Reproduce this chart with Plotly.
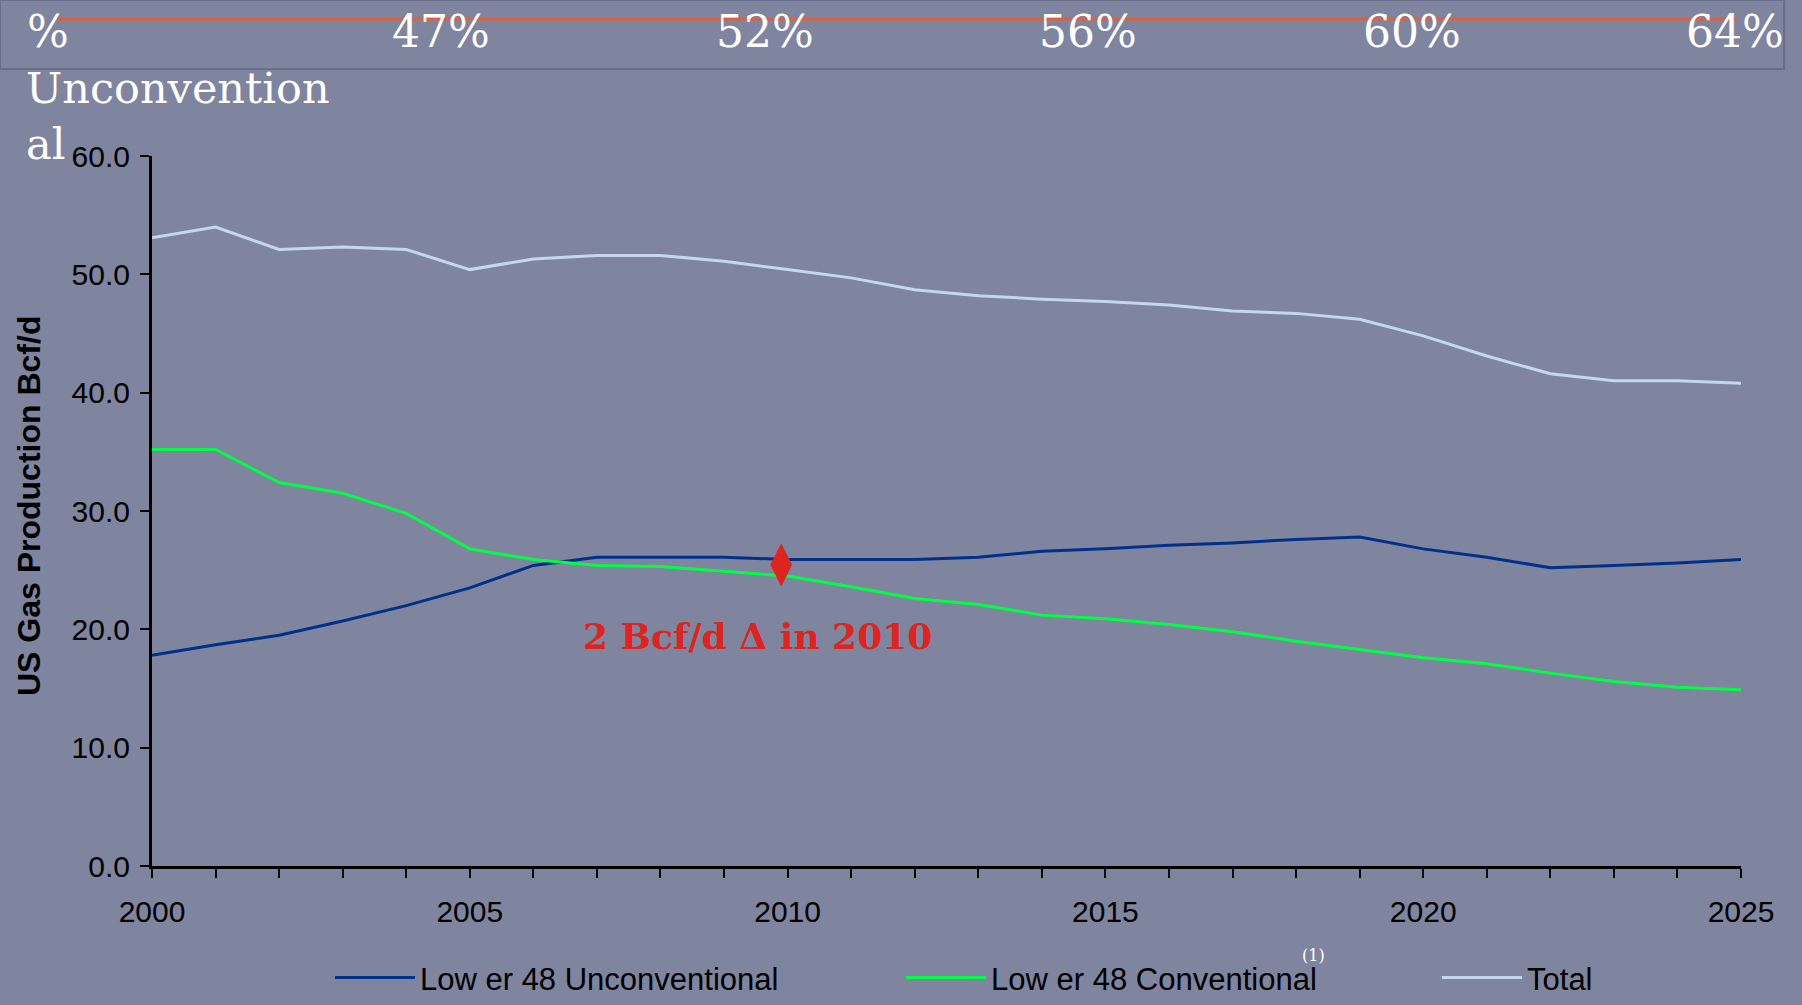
import plotly.graph_objects as go

years = list(range(2000, 2026))
unconventional = [17.8, 18.7, 19.5, 20.7, 22.0, 23.5, 25.4, 26.1, 26.1, 26.1, 25.9, 25.9, 25.9, 26.1, 26.6,
                  26.8, 27.1, 27.3, 27.6, 27.8, 26.8, 26.1, 25.2, 25.4, 25.6, 25.9]
conventional = [35.2, 35.2, 32.4, 31.5, 29.8, 26.8, 25.9, 25.4, 25.3, 24.9, 24.5, 23.6, 22.6, 22.1, 21.2,
                20.9, 20.4, 19.8, 19.0, 18.3, 17.6, 17.1, 16.3, 15.6, 15.1, 14.9]
total = [53.1, 54.0, 52.1, 52.3, 52.1, 50.4, 51.3, 51.6, 51.6, 51.1, 50.4, 49.7, 48.7, 48.2, 47.9,
         47.7, 47.4, 46.9, 46.7, 46.2, 44.8, 43.1, 41.6, 41.0, 41.0, 40.8]
series_names = ["Low er 48 Unconventional", "Low er 48 Conventional", "Total"]
series_colors = ["#00308A", "#00FF44", "#C4D8EC"]
legend_ids = ["legend", "legend2", "legend3"]
legend_x = [0.1120, 0.4714, 0.8087]

share_labels = ["%", "47%", "52%", "56%", "60%", "64%"]
share_x = [-0.080, 0.1819, 0.3858, 0.5890, 0.7930, 0.9962]

delta_x = [2009.9]
delta_y = [25.45]
delta_text = "2 Bcf/d \u0394 in 2010"

BG = "rgb(127,132,159)"

fig = go.Figure()
for name, vals, col, lg in zip(series_names, [unconventional, conventional, total], series_colors, legend_ids):
    fig.add_trace(go.Scatter(x=years, y=vals, name=name, mode="lines", legend=lg,
                             line=dict(color=col, width=3)))

fig.add_trace(go.Scatter(x=delta_x, y=delta_y, mode="markers", showlegend=False,
                         marker=dict(symbol="diamond-tall", size=31, color="#DD2420",
                                     line=dict(width=0))))

fig.add_annotation(x=2009.53, y=19.47, xref="x", yref="y", text=delta_text, showarrow=False,
                   font=dict(family="DejaVu Serif", size=36, color="#DD2420", weight="bold"))

# top band
fig.add_shape(type="rect", xref="paper", yref="paper", x0=-0.0957, x1=1.0271, y0=1.1225, y1=1.2197,
              line=dict(color="rgb(104,110,138)", width=2), fillcolor="rgba(0,0,0,0)", layer="below")
fig.add_shape(type="line", xref="paper", yref="paper", x0=-0.0598, x1=0.9975, y0=1.193, y1=1.193,
              line=dict(color="rgb(224,96,60)", width=3))
for i, (lab, px) in enumerate(zip(share_labels, share_x)):
    fig.add_annotation(x=px, y=1.175, xref="paper", yref="paper", text=lab, showarrow=False,
                       xanchor="left" if i == 0 else "center", yanchor="middle",
                       font=dict(family="DejaVu Serif", size=44, color="white"))

fig.add_annotation(x=-0.0806, y=1.056, xref="paper", yref="paper", text="Unconvention<br>al",
                   showarrow=False, xanchor="left", yanchor="middle", align="left",
                   font=dict(family="DejaVu Serif", size=43, color="white"))

fig.add_annotation(x=-0.0774, y=0.507, xref="paper", yref="paper", text="US Gas Production Bcf/d",
                   showarrow=False, textangle=-90, xanchor="center", yanchor="middle",
                   font=dict(family="Liberation Sans", size=32, color="black", weight="bold"))

fig.add_annotation(x=0.7395, y=-0.1420, xref="paper", yref="paper", text="(1)", showarrow=False,
                   font=dict(family="DejaVu Serif", size=16, color="white"))

legend_common = dict(orientation="h", yref="container", y=0.0269, xanchor="left", yanchor="middle",
                     bgcolor="rgba(0,0,0,0)", font=dict(size=31, color="black", family="Liberation Sans"),
                     itemwidth=80)

fig.update_layout(
    width=1802, height=1005,
    margin=dict(l=152, r=61, t=156, b=139),
    paper_bgcolor=BG, plot_bgcolor=BG,
    font=dict(family="Liberation Sans", color="black"),
    showlegend=True,
    legend=dict(x=legend_x[0], **legend_common),
    legend2=dict(x=legend_x[1], **legend_common),
    legend3=dict(x=legend_x[2], **legend_common),
    xaxis=dict(range=[2000, 2025], tickmode="linear", tick0=2000, dtick=5,
               ticks="outside", ticklen=9, tickwidth=2, tickcolor="black",
               showline=True, linecolor="black", linewidth=3, showgrid=False, zeroline=False,
               tickfont=dict(size=30, color="black"), ticklabelstandoff=8,
               minor=dict(dtick=1, ticks="outside", ticklen=9, tickwidth=2, tickcolor="black", showgrid=False)),
    yaxis=dict(range=[0, 60], tickmode="linear", tick0=0, dtick=10, tickformat=".1f",
               ticks="outside", ticklen=9, tickwidth=2, tickcolor="black",
               showline=True, linecolor="black", linewidth=3, showgrid=False, zeroline=False,
               tickfont=dict(size=30, color="black"), ticklabelstandoff=4),
)

fig.write_html("out.html", config={"displayModeBar": False},
               post_script="document.body.style.margin='0';document.body.style.overflow='hidden';")
